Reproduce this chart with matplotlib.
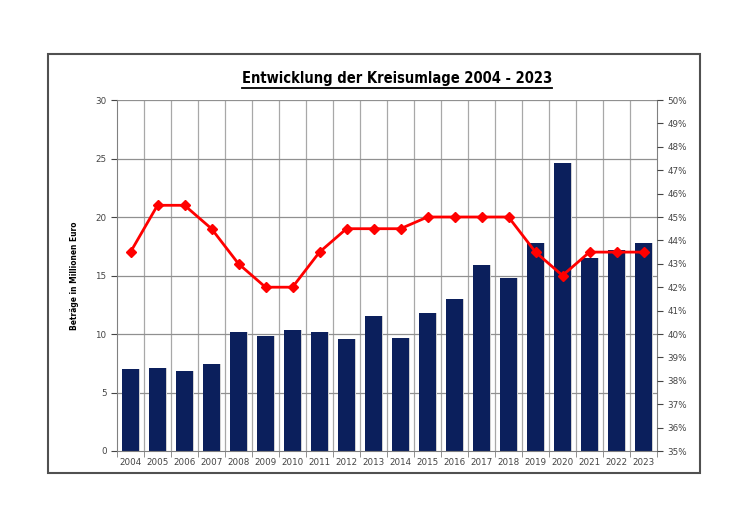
import numpy as np
import matplotlib
matplotlib.use("Agg")
import matplotlib.pyplot as plt
from matplotlib.patches import Rectangle
from matplotlib.lines import Line2D
from matplotlib.ticker import MultipleLocator, FuncFormatter


##### Data

years = [str(y) for y in range(2004, 2024)]
betraege = [7.0, 7.1, 6.8, 7.4, 10.2, 9.8, 10.3, 10.2, 9.6, 11.5,
            9.7, 11.8, 13.0, 15.9, 14.8, 17.8, 24.6, 16.5, 17.2, 17.8]
umlagesatz = [43.5, 45.5, 45.5, 44.5, 43.0, 42.0, 42.0, 43.5, 44.5, 44.5,
              44.5, 45.0, 45.0, 45.0, 45.0, 43.5, 42.5, 43.5, 43.5, 43.5]

title_text = "Entwicklung der Kreisumlage 2004 - 2023"
ylabel_text = "Beträge in Millionen Euro"


##### Figure

fig = plt.figure(figsize=(7.5, 5.3), dpi=100)
fig.patch.set_facecolor("white")

# outer frame
fig.patches.append(Rectangle((48/750, 1-473/530), 652/750, 419/530,
                             transform=fig.transFigure, fill=False,
                             edgecolor="#505050", linewidth=1.5))

ax = fig.add_axes([117/750, 1-451/530, 540/750, 351/530])
x = np.arange(len(years))

ax.set_xlim(-0.5, len(years) - 0.5)
ax.set_ylim(0, 30)

# grid
for xv in np.arange(0.5, len(years) - 0.5, 1):
    ax.axvline(xv, color="#a8a8a8", lw=0.9, zorder=0)
for yv in range(5, 31, 5):
    ax.axhline(yv, color="#909090", lw=0.9, zorder=0)

# bars with shadow
ax.bar(x + 0.07, betraege, width=0.6, color="#d0d0d0", zorder=1)
ax.bar(x, betraege, width=0.6, color="#0b1f5c", zorder=2)

ax.set_xticks(x)
ax.set_xticklabels(years)
ax.yaxis.set_major_locator(MultipleLocator(5))
ax.tick_params(axis="both", labelsize=6.3, colors="#444444", length=4,
               width=0.8, direction="out")
ax.tick_params(axis="x", length=0, pad=5)
ax.set_xticks(np.arange(-0.5, len(years), 1), minor=True)
ax.tick_params(axis="x", which="minor", length=4, color="#808080")
for s in ["left", "bottom", "right"]:
    ax.spines[s].set_color("#808080")
ax.spines["top"].set_visible(False)

ax.set_ylabel(ylabel_text, fontsize=6, fontweight="bold", labelpad=12,
              fontstretch="condensed")

# percentage axis
ax2 = ax.twinx()
ax2.set_ylim(35, 50)
ax2.yaxis.set_major_locator(MultipleLocator(1))
ax2.yaxis.set_major_formatter(FuncFormatter(lambda v, p: f"{int(v)}%"))
ax2.tick_params(axis="y", labelsize=6.3, colors="#444444", length=4, width=0.8)
for s in ["left", "bottom", "right", "top"]:
    ax2.spines[s].set_visible(False)
ax2.plot(x, umlagesatz, color="#ff0000", lw=2, marker="D", markersize=5.5,
         zorder=5)

# title with underline
t = fig.text(397/750, 1-78/530, title_text, ha="center", va="center",
             fontsize=10.5, fontweight="bold", fontstretch="condensed",
             family="DejaVu Sans")
fig.canvas.draw()
bb = t.get_window_extent().transformed(fig.transFigure.inverted())
fig.lines.append(Line2D([bb.x0, bb.x1], [bb.y0 - 0.004, bb.y0 - 0.004],
                        transform=fig.transFigure, color="black", lw=1.3))

fig.savefig("out.png", dpi=100)
